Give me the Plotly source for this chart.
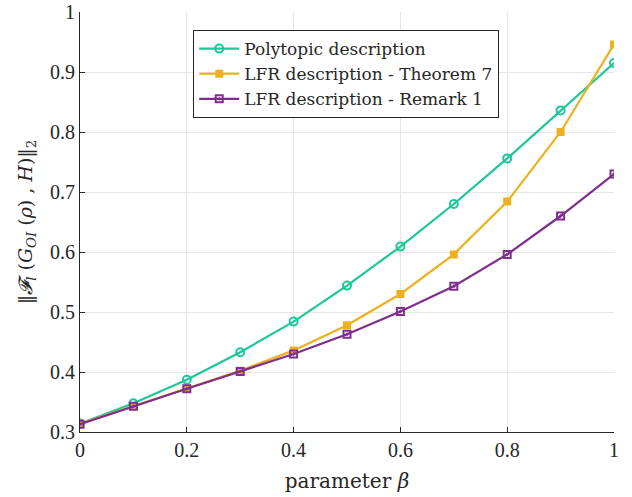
import plotly.graph_objects as go

beta = [0, 0.1, 0.2, 0.3, 0.4, 0.5, 0.6, 0.7, 0.8, 0.9, 1.0]
polytopic = [0.314, 0.348, 0.387, 0.433, 0.484, 0.544, 0.609, 0.680, 0.756, 0.836, 0.915]
lfr_thm7 = [0.314, 0.343, 0.372, 0.402, 0.436, 0.478, 0.530, 0.596, 0.684, 0.800, 0.946]
lfr_rem1 = [0.313, 0.343, 0.372, 0.401, 0.430, 0.463, 0.501, 0.543, 0.596, 0.660, 0.730]

names = ["Polytopic description", "LFR description - Theorem 7", "LFR description - Remark 1"]
colors = ["#1CC79A", "#EDB120", "#7E2F8E"]
symbols = ["circle-open", "square", "square-open-dot"]
sizes = [8, 6, 7]

font = "Liberation Serif, DejaVu Serif, serif"
wfont = "DejaVu Serif, Liberation Serif, serif"
fig = go.Figure()
for name, ys, c, s, sz in zip(names, [polytopic, lfr_thm7, lfr_rem1], colors, symbols, sizes):
    fig.add_trace(go.Scatter(x=beta, y=ys, mode="lines+markers", name=name,
                             line=dict(color=c, width=2.2),
                             marker=dict(symbol=s, size=sz, color=c, line=dict(color=c, width=2))))

fig.update_layout(
    width=632, height=497,
    margin=dict(l=80, r=18, t=12, b=65),
    plot_bgcolor="white", paper_bgcolor="white",
    font=dict(family=font, size=20, color="#262626"),
    showlegend=True,
    legend=dict(x=0.212, y=0.957, xanchor="left", yanchor="top",
                bgcolor="white", bordercolor="#262626", borderwidth=1,
                font=dict(family=wfont, size=17, color="#262626"),
                itemwidth=40, tracegroupgap=0),
)
fig.update_xaxes(range=[0, 1], dtick=0.2, tickformat="~g", automargin=False,
                 showgrid=True, gridcolor="#E6E6E6", gridwidth=1,
                 showline=True, linecolor="#262626", linewidth=1,
                 ticks="inside", ticklen=5, tickcolor="#262626",
                 zeroline=False,
                 title=dict(text="parameter <i>β</i>", font=dict(family=wfont, size=20), standoff=13))
fig.update_yaxes(range=[0.3, 1], dtick=0.1, tickformat="~g", automargin=False,
                 showgrid=True, gridcolor="#E6E6E6", gridwidth=1,
                 showline=True, linecolor="#262626", linewidth=1,
                 ticks="inside", ticklen=5, tickcolor="#262626",
                 zeroline=False,
                 title=dict(text="‖<i>𝓕<sub>l</sub></i> (<i>G<sub>OI</sub></i> (<i>ρ</i>) , <i>H</i>)‖<sub>2</sub>",
                            font=dict(family=wfont, size=19), standoff=12))

fig.write_html("out.html", config={"displayModeBar": False},
               post_script="document.body.style.margin='0';document.body.style.overflow='hidden';")
